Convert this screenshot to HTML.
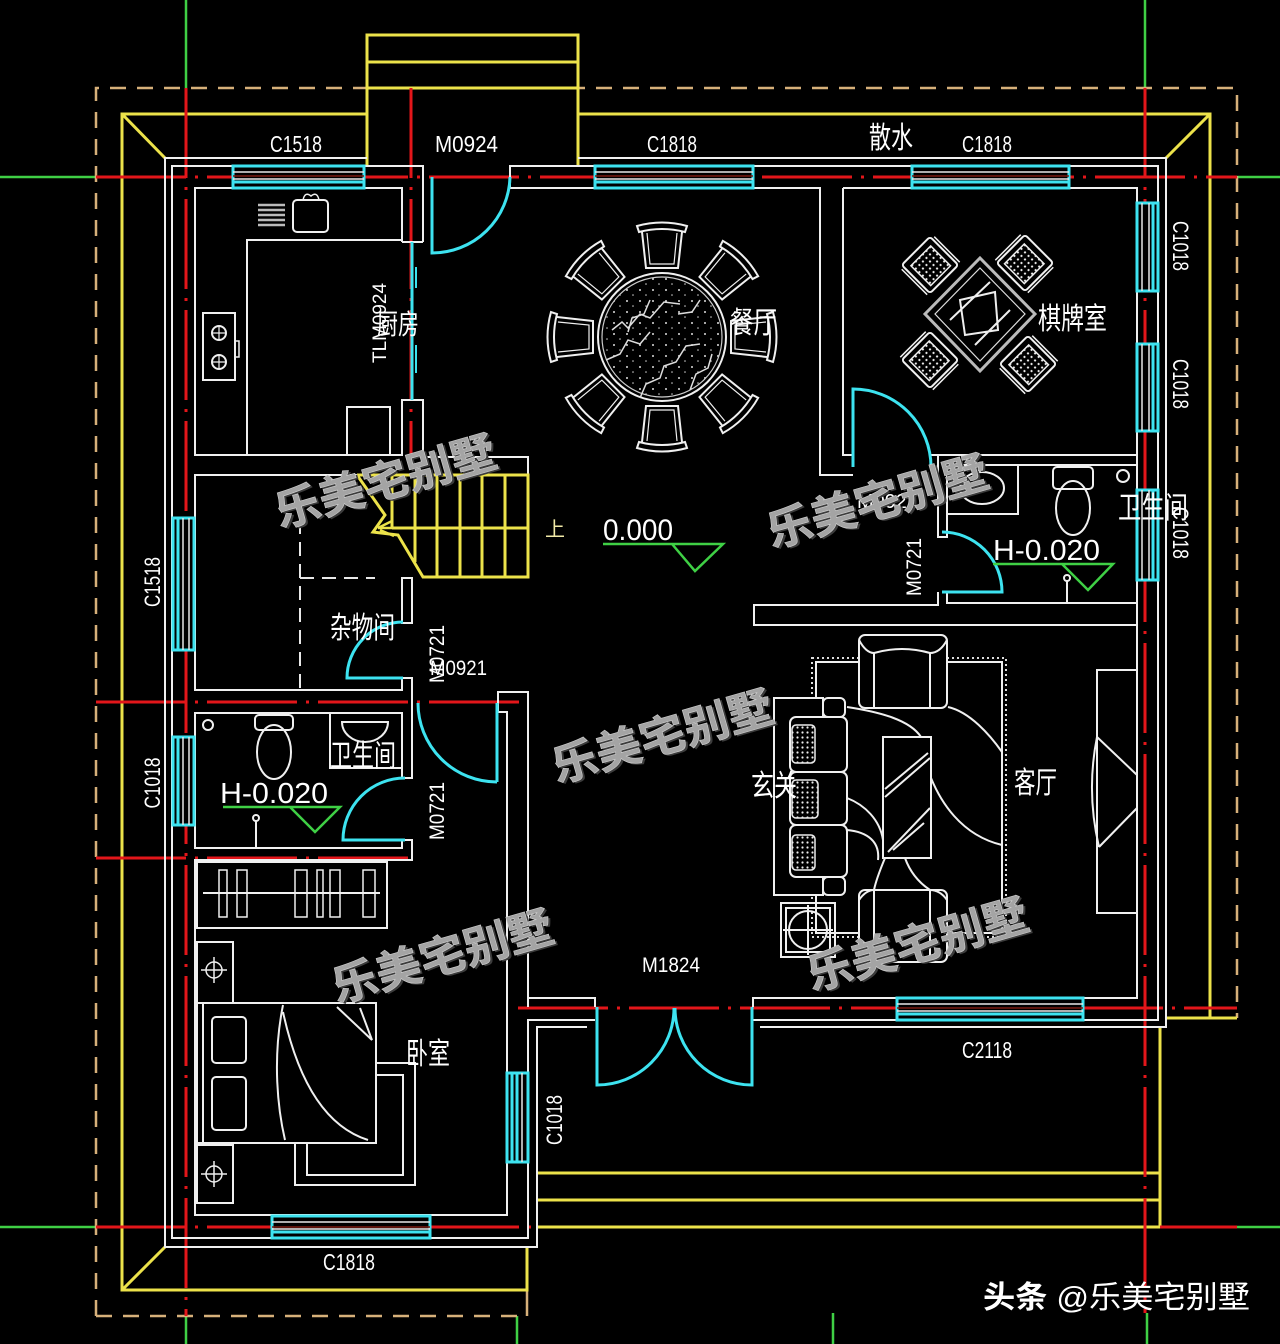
<!DOCTYPE html>
<html><head><meta charset="utf-8">
<style>
html,body{margin:0;padding:0;background:#000;}
svg{display:block}
.w{stroke:#f0f0f0;stroke-width:2;fill:none}
.wb{stroke:#f0f0f0;stroke-width:2;fill:#000}
.r{stroke:#e3161a;stroke-width:3;fill:none;stroke-dasharray:90 9 3 9}
.y{stroke:#ece24a;stroke-width:3;fill:none}
.c{stroke:#3de3f0;stroke-width:3;fill:none}
.g{stroke:#3fd045;stroke-width:2.5;fill:none}
.d{stroke:#d6b07a;stroke-width:2.5;fill:none;stroke-dasharray:16 11}
.t{fill:#fff;font-family:"Liberation Sans","Noto Sans CJK SC",sans-serif}
.k{fill:#fff;font-family:"Liberation Sans","Noto Sans CJK SC",sans-serif}
.wm{font-family:"Liberation Sans","Noto Sans CJK SC","WenQuanYi Zen Hei",sans-serif;font-weight:700;font-size:44px}
</style></head><body>
<svg width="1280" height="1344" viewBox="0 0 1280 1344" xmlns="http://www.w3.org/2000/svg">
<defs>
<pattern id="dt" width="5" height="5" patternUnits="userSpaceOnUse"><circle cx="2.5" cy="2.5" r="1.1" fill="#eee"/></pattern>
<pattern id="sp" width="13" height="11" patternUnits="userSpaceOnUse"><circle cx="3" cy="4" r="1" fill="#ddd"/><circle cx="9" cy="9" r="0.8" fill="#ccc"/></pattern>
<g id="ch" stroke="#f0f0f0" stroke-width="2" fill="none">
  <path d="M-25,-21 Q0,-28 25,-21 L23,-15 Q0,-21 -23,-15 Z" fill="#000"/>
  <path d="M-20,-15 L-16,21 L16,21 L20,-15"/>
  <path d="M-15,-14 L-12,17 L12,17 L15,-14" stroke-width="1.2"/>
</g>
<g id="mj">
  <rect x="-20" y="-20" width="40" height="40" rx="3" stroke="#f0f0f0" stroke-width="2" fill="#000"/>
  <rect x="-14" y="-13" width="28" height="28" fill="url(#dt)" stroke="#eee" stroke-width="1.5"/>
  <path d="M-23,-17 V19 M23,-17 V19" stroke="#f0f0f0" stroke-width="1.5" fill="none"/>
</g>
</defs>
<rect width="1280" height="1344" fill="#000"/>

<!-- green axis stubs -->
<path class="g" d="M186 0V88M1145 0V88M0 177H96M1237 177H1280M0 1227H96M1237 1227H1280M186 1316V1344M517 1316V1344M833 1313V1344M1147 1313V1344"/>

<!-- dashed boundary -->
<path class="d" d="M96 1316V88H1237V1018"/>
<path class="d" d="M96 1316H527"/>
<path d="M527 1316V1290" stroke="#d6b07a" stroke-width="2.5"/>

<!-- yellow -->
<path class="y" d="M367 166V35H578V166M367 62H578M367 88H578"/>
<path class="y" d="M367 114H122V1290H527V1247M122 114L165 158M122 1290L165 1247"/>
<path class="y" d="M578 114H1210V1018M1210 114L1166 158M1166 1018H1237"/>
<path class="y" d="M537 1173H1160M537 1200H1160M537 1227H1160V1028"/>

<!-- red axes -->
<path class="r" d="M96 177H1237"/>
<path class="r" d="M186 88V1316"/>
<path class="r" d="M411 88V460"/>
<path class="r" d="M1145 88V1313"/>
<path class="r" d="M96 702H520"/>
<path class="r" d="M96 858H412"/>
<path class="r" d="M518 1008H1237"/>
<path class="r" d="M96 1227H537"/>
<path class="r" d="M1160 1227H1237"/>

<!-- white walls -->
<g class="w">
<path d="M367 158H165V1247H537V1027H587"/>
<path d="M578 158H1166V1027H760"/>
<path d="M423 242V166H172V1238H528V1020H595"/>
<path d="M510 188V166H1158V1020H753"/>
<path d="M510 188H820V475H853"/>
<path d="M843 188V455H853"/>
<path d="M843 188H1137V998H753V1007"/>
<path d="M930 455H1137"/>
<path d="M938 455V537H947V465H1137"/>
<path d="M938 592V605H754V625H1137"/>
<path d="M947 592V603H1137"/>
<path d="M528 1007V998H595V1007"/>
<!-- kitchen -->
<path d="M402 242V188H195V455H402V400H423V457H528V475"/>
<path d="M402 242H423"/>
<!-- stair room / storage -->
<path d="M357 475H195V690H402V678H412V692"/>
<rect x="402" y="578" width="10" height="45"/>
<!-- bath 2 -->
<path d="M402 778V713H195V848H402V840"/>
<path d="M412 692V778H402"/>
<path d="M402 840H412V860H195V1215H507V712H498V692H528V998"/>
<path d="M528 1020V1238"/>
<!-- corridor cap -->
<path d="M498 712V692"/>
</g>

<!-- storage dashed -->
<path d="M300 520V690M300 578H375" stroke="#e8e8e8" stroke-width="2" stroke-dasharray="14 8" fill="none"/>

<!-- stairs -->
<path class="y" d="M357 475H528V577H423L398 535L373 532L385 515L357 475"/>
<path class="y" d="M392 475V528M415 475V562M437 475V577M460 475V577M482 475V577M505 475V577M392 528H528"/>
<path d="M378 528H425M378 528L392 521M380 530L394 536" stroke="#ece24a" stroke-width="2.5" fill="none"/>

<!-- windows -->
<g>
<rect x="233" y="166" width="131" height="22" fill="#000"/>
<rect x="595" y="166" width="158" height="22" fill="#000"/>
<rect x="912" y="166" width="157" height="22" fill="#000"/>
<rect x="272" y="1216" width="158" height="22" fill="#000"/>
<rect x="897" y="998" width="186" height="22" fill="#000"/>
<rect x="1137" y="203" width="21" height="88" fill="#000"/>
<rect x="1137" y="344" width="21" height="87" fill="#000"/>
<rect x="1137" y="490" width="21" height="90" fill="#000"/>
<rect x="173" y="518" width="21" height="132" fill="#000"/>
<rect x="173" y="737" width="21" height="88" fill="#000"/>
<rect x="507" y="1073" width="21" height="89" fill="#000"/>
</g>
<g class="c" stroke-width="2.5">
<rect x="233" y="166" width="131" height="22"/><path d="M233 182H364"/>
<rect x="595" y="166" width="158" height="22"/><path d="M595 182H753"/>
<rect x="912" y="166" width="157" height="22"/><path d="M912 182H1069"/>
<rect x="272" y="1216" width="158" height="22"/><path d="M272 1232H430"/>
<rect x="897" y="998" width="186" height="22"/><path d="M897 1014H1083"/>
<rect x="1137" y="203" width="21" height="88"/><path d="M1153 203V291"/>
<rect x="1137" y="344" width="21" height="87"/><path d="M1153 344V431"/>
<rect x="1137" y="490" width="21" height="90"/><path d="M1153 490V580"/>
<rect x="173" y="518" width="21" height="132"/><path d="M178 518V650"/>
<rect x="173" y="737" width="21" height="88"/><path d="M178 737V825"/>
<rect x="507" y="1073" width="21" height="89"/><path d="M512 1073V1162M517 1073V1162"/>
</g>
<g stroke="#e8e8e8" stroke-width="1.5" fill="none">
<path d="M233 172H364M233 179H364"/>
<path d="M595 172H753M595 179H753"/>
<path d="M912 172H1069M912 179H1069"/>
<path d="M272 1222H430M272 1229H430"/>
<path d="M897 1004H1083M897 1011H1083"/>
<path d="M1142 203V291M1149 203V291M1142 344V431M1149 344V431M1142 490V580M1149 490V580"/>
<path d="M183 518V650M189 518V650M183 737V825M189 737V825"/>
<path d="M522 1073V1162"/>
</g>
<path d="M233 176H364M595 176H753M912 176H1069M897 1008H1083M272 1227H430" stroke="#7a1a10" stroke-width="1.5"/>

<!-- doors -->
<g class="c">
<path d="M432 177V253A78 78 0 0 0 510 177"/>
<path d="M412 242V400"/>
<path d="M416 267V288M416 345V373" stroke-width="2"/>
<path d="M853 467V389A78 78 0 0 1 931 467"/>
<path d="M942 532A60 60 0 0 1 1002 592H942"/>
<path d="M403 622A56 56 0 0 0 347 678H403"/>
<path d="M405 778A62 62 0 0 0 343 840H405"/>
<path d="M497 703V782M418 703A79 79 0 0 0 497 782"/>
<path d="M597 1007V1085A77 77 0 0 0 674 1008"/>
<path d="M752 1007V1085A77 77 0 0 1 675 1008"/>
</g>

<!-- kitchen furniture -->
<g class="w">
<path d="M247 455V240H402"/>
<rect x="293" y="200" width="35" height="32" rx="4"/>
<path d="M303 200Q305 191 311 196Q317 191 319 200" stroke-width="1.5"/>
<rect x="203" y="313" width="32" height="67"/>
<circle cx="219" cy="333" r="7"/><circle cx="219" cy="362" r="7"/>
<path d="M212 333H226M219 326V340M212 362H226M219 355V369" stroke-width="1.2"/>
<rect x="235" y="341" width="4" height="16" stroke-width="1.5"/>
<rect x="347" y="407" width="43" height="48"/>
</g>
<path d="M258 205H285M258 210H285M258 215H285M258 220H285M258 225H285" stroke="#bbb" stroke-width="2.5"/>

<!-- dining table -->
<circle cx="662" cy="337" r="64" class="w" stroke-width="2.5"/>
<circle cx="662" cy="337" r="60" fill="url(#sp)" stroke="#ccc" stroke-width="1.2"/>
<path d="M612 330l10-8 6 6 12-14 10 4 14-16 16 2M606 360l14-6 8-14 12 4 10-12M640 398l6-14 14-6 4-12 12-4 10-16 14-2M690 390l6-16 12-6 4-14M650 300l-6 14-12 4-4 14M700 300l-8 12-14 2" stroke="#ddd" stroke-width="1.5" fill="none"/>
<use href="#ch" transform="translate(662 337) rotate(0) translate(0 -90)"/>
<use href="#ch" transform="translate(662 337) rotate(45) translate(0 -90)"/>
<use href="#ch" transform="translate(662 337) rotate(90) translate(0 -90)"/>
<use href="#ch" transform="translate(662 337) rotate(135) translate(0 -90)"/>
<use href="#ch" transform="translate(662 337) rotate(180) translate(0 -90)"/>
<use href="#ch" transform="translate(662 337) rotate(225) translate(0 -90)"/>
<use href="#ch" transform="translate(662 337) rotate(270) translate(0 -90)"/>
<use href="#ch" transform="translate(662 337) rotate(315) translate(0 -90)"/>

<!-- mahjong -->
<use href="#mj" transform="translate(930 265) rotate(-45)"/>
<use href="#mj" transform="translate(1025 263) rotate(45)"/>
<use href="#mj" transform="translate(930 360) rotate(45)"/>
<use href="#mj" transform="translate(1028 364) rotate(-45)"/>
<path d="M980 258L1035 314L980 371L925 314Z" stroke="#bbb" stroke-width="3" fill="#000"/>
<path d="M980 268L1025 314L980 361L935 314Z" stroke="#ddd" stroke-width="1.2" fill="none"/>
<path d="M960 300L995 292L998 330L965 335ZM950 320L990 282M975 345L1010 310" stroke="#eee" stroke-width="2" fill="none"/>

<!-- bath 1 -->
<g class="w">
<path d="M947 514H1018V465"/>
<ellipse cx="982" cy="488" rx="22" ry="16"/>
<rect x="1053" y="467" width="40" height="22" rx="4"/>
<ellipse cx="1073" cy="508" rx="17" ry="27"/>
<circle cx="1123" cy="476" r="6"/>
<path d="M1067 580V603"/><circle cx="1067" cy="578" r="3"/>
</g>

<!-- bath 2 -->
<g class="w">
<rect x="255" y="715" width="38" height="15" rx="4"/>
<ellipse cx="274" cy="752" rx="17" ry="27"/>
<path d="M330 713V768H402"/>
<path d="M342 722A23 20 0 0 0 388 722Z"/>
<circle cx="208" cy="725" r="5"/>
<path d="M256 821V848"/><circle cx="256" cy="818" r="3"/>
</g>

<!-- bedroom -->
<g class="w">
<rect x="197" y="862" width="190" height="66"/>
<path d="M203 893H380"/>
<rect x="219" y="870" width="8" height="47" stroke-width="1.5"/>
<rect x="237" y="870" width="10" height="47" stroke-width="1.5"/>
<rect x="295" y="870" width="12" height="47" stroke-width="1.5"/>
<rect x="317" y="870" width="6" height="47" stroke-width="1.5"/>
<rect x="330" y="870" width="10" height="47" stroke-width="1.5"/>
<rect x="363" y="870" width="12" height="47" stroke-width="1.5"/>
<rect x="197" y="942" width="36" height="61"/>
<rect x="197" y="1145" width="36" height="58"/>
<rect x="295" y="1063" width="120" height="122"/>
<rect x="307" y="1075" width="96" height="100"/>
<rect x="197" y="1003" width="179" height="140" class="wb"/>
<path d="M203 1003V1143"/>
<rect x="212" y="1017" width="34" height="46" rx="4"/>
<rect x="212" y="1077" width="34" height="53" rx="4"/>
<path d="M283 1005C272 1060 278 1110 285 1140M283 1012C300 1090 330 1128 368 1140M337 1007L372 1040L360 1008"/>
</g>
<g stroke="#eee" stroke-width="1.5" fill="none">
<circle cx="214" cy="970" r="8"/><path d="M214 957V983M201 970H227"/>
<circle cx="214" cy="1174" r="8"/><path d="M214 1161V1187M201 1174H227"/>
</g>

<!-- living room -->
<rect x="816" y="662" width="186" height="271" class="w"/>
<rect x="812" y="658" width="194" height="279" stroke="#ddd" stroke-width="2" fill="none" stroke-dasharray="2 3"/>
<g class="w">
<path d="M847 707C880 712 910 720 921 737M948 707C970 712 990 735 1002 752M931 778C940 800 960 835 1002 845M847 798C865 805 880 820 883 840M847 830C868 832 880 842 878 860M885 858C880 870 876 880 874 890M905 858C910 872 918 882 930 890"/>
<rect x="859" y="635" width="88" height="73" rx="6" class="wb"/>
<path d="M874 653V708M930 653V708M874 653Q902 645 930 653M859 640Q866 653 874 653M947 640Q940 653 930 653"/>
<rect x="774" y="698" width="49" height="197" class="wb"/>
<rect x="790" y="717" width="57" height="55" rx="6" class="wb"/>
<rect x="790" y="772" width="57" height="53" rx="6" class="wb"/>
<rect x="790" y="825" width="57" height="52" rx="6" class="wb"/>
<rect x="823" y="698" width="22" height="19" rx="5" class="wb"/>
<rect x="823" y="877" width="22" height="18" rx="5" class="wb"/>
<rect x="883" y="737" width="48" height="121" class="wb"/>
<path d="M885 797L930 758M885 789L928 753M888 852L930 808M893 850L924 823"/>
<rect x="859" y="890" width="88" height="72" rx="6" class="wb"/>
<path d="M874 890V960M930 890V960M859 900Q866 890 874 890M947 900Q940 890 930 890"/>
<rect x="781" y="903" width="54" height="54"/>
<rect x="786" y="908" width="44" height="44"/>
<circle cx="808" cy="930" r="19"/>
<path d="M808 905V955M783 930H833"/>
<rect x="1097" y="670" width="40" height="243"/>
<path d="M1097 737L1137 775M1137 808L1099 847M1097 737Q1086 792 1099 847"/>
</g>
<rect x="792" y="725" width="23" height="38" rx="4" fill="url(#dt)" stroke="#eee" stroke-width="1.5"/>
<rect x="792" y="780" width="26" height="38" rx="4" fill="url(#dt)" stroke="#eee" stroke-width="1.5"/>
<rect x="792" y="835" width="23" height="35" rx="4" fill="url(#dt)" stroke="#eee" stroke-width="1.5"/>

<!-- elevation marks -->
<path class="g" d="M603 544H723L695 571L672 544"/>
<path class="g" d="M993 564H1113L1088 590L1062 564"/>
<path class="g" d="M223 807H340L315 832L290 807"/>

<!-- labels -->
<g class="t" font-size="23">
<text x="270" y="152" textLength="52" lengthAdjust="spacingAndGlyphs">C1518</text>
<text x="435" y="152" textLength="63" lengthAdjust="spacingAndGlyphs">M0924</text>
<text x="647" y="152" textLength="50" lengthAdjust="spacingAndGlyphs">C1818</text>
<text x="962" y="152" textLength="50" lengthAdjust="spacingAndGlyphs">C1818</text>
<text x="323" y="1270" textLength="52" lengthAdjust="spacingAndGlyphs">C1818</text>
<text x="962" y="1058" textLength="50" lengthAdjust="spacingAndGlyphs">C2118</text>
<text x="642" y="972" font-size="21" textLength="58" lengthAdjust="spacingAndGlyphs">M1824</text>
<text x="430" y="675" font-size="21" textLength="57" lengthAdjust="spacingAndGlyphs">M0921</text>
<text x="857" y="508" font-size="20" textLength="61" lengthAdjust="spacingAndGlyphs">M0921</text>
<text x="603" y="540" font-size="30" textLength="70" lengthAdjust="spacingAndGlyphs">0.000</text>
<text x="993" y="560" font-size="29" textLength="107" lengthAdjust="spacingAndGlyphs">H-0.020</text>
<text x="220" y="803" font-size="29" textLength="108" lengthAdjust="spacingAndGlyphs">H-0.020</text>
<text transform="translate(386 323) rotate(-90)" text-anchor="middle" font-size="19" textLength="80" lengthAdjust="spacingAndGlyphs">TLM0924</text>
<text transform="translate(1173 246) rotate(90)" text-anchor="middle" font-size="22" textLength="50" lengthAdjust="spacingAndGlyphs">C1018</text>
<text transform="translate(1173 384) rotate(90)" text-anchor="middle" font-size="22" textLength="50" lengthAdjust="spacingAndGlyphs">C1018</text>
<text transform="translate(1173 533) rotate(90)" text-anchor="middle" font-size="22" textLength="52" lengthAdjust="spacingAndGlyphs">C1018</text>
<text transform="translate(160 582) rotate(-90)" text-anchor="middle" font-size="22" textLength="50" lengthAdjust="spacingAndGlyphs">C1518</text>
<text transform="translate(160 783) rotate(-90)" text-anchor="middle" font-size="22" textLength="51" lengthAdjust="spacingAndGlyphs">C1018</text>
<text transform="translate(562 1120) rotate(-90)" text-anchor="middle" font-size="22" textLength="50" lengthAdjust="spacingAndGlyphs">C1018</text>
<text transform="translate(444 654) rotate(-90)" text-anchor="middle" font-size="21" textLength="58" lengthAdjust="spacingAndGlyphs">M0721</text>
<text transform="translate(444 811) rotate(-90)" text-anchor="middle" font-size="21" textLength="58" lengthAdjust="spacingAndGlyphs">M0721</text>
<text transform="translate(921 567) rotate(-90)" text-anchor="middle" font-size="21" textLength="58" lengthAdjust="spacingAndGlyphs">M0721</text>
</g>
<g class="k" font-size="30">
<text x="869" y="148" textLength="44" lengthAdjust="spacingAndGlyphs">散水</text>
<text x="377" y="334" font-size="28" textLength="42" lengthAdjust="spacingAndGlyphs">厨房</text>
<text x="730" y="333" textLength="47" lengthAdjust="spacingAndGlyphs">餐厅</text>
<text x="1038" y="329" textLength="69" lengthAdjust="spacingAndGlyphs">棋牌室</text>
<text x="1118" y="518" textLength="70" lengthAdjust="spacingAndGlyphs">卫生间</text>
<text x="330" y="638" textLength="65" lengthAdjust="spacingAndGlyphs">杂物间</text>
<text x="330" y="766" textLength="66" lengthAdjust="spacingAndGlyphs">卫生间</text>
<text x="406" y="1064" textLength="44" lengthAdjust="spacingAndGlyphs">卧室</text>
<text x="751" y="796" textLength="46" lengthAdjust="spacingAndGlyphs">玄关</text>
<text x="1014" y="793" textLength="43" lengthAdjust="spacingAndGlyphs">客厅</text>
<text x="545" y="536" font-size="20" fill="#f2eaa8">上</text>
</g>

<!-- watermarks -->
<g class="wm">
<g transform="rotate(-16 280 528)"><text x="282" y="530" fill="#3c3c3c" textLength="228" lengthAdjust="spacingAndGlyphs">乐美宅别墅</text><text x="280" y="528" fill="#a4a4a4" stroke="#cfcfcf" stroke-width="0.6" textLength="228" lengthAdjust="spacingAndGlyphs">乐美宅别墅</text></g>
<g transform="rotate(-16 772 548)"><text x="774" y="550" fill="#3c3c3c" textLength="228" lengthAdjust="spacingAndGlyphs">乐美宅别墅</text><text x="772" y="548" fill="#a4a4a4" stroke="#cfcfcf" stroke-width="0.6" textLength="228" lengthAdjust="spacingAndGlyphs">乐美宅别墅</text></g>
<g transform="rotate(-16 557 783)"><text x="559" y="785" fill="#3c3c3c" textLength="228" lengthAdjust="spacingAndGlyphs">乐美宅别墅</text><text x="557" y="783" fill="#a4a4a4" stroke="#cfcfcf" stroke-width="0.6" textLength="228" lengthAdjust="spacingAndGlyphs">乐美宅别墅</text></g>
<g transform="rotate(-16 337 1003)"><text x="339" y="1005" fill="#3c3c3c" textLength="228" lengthAdjust="spacingAndGlyphs">乐美宅别墅</text><text x="337" y="1003" fill="#a4a4a4" stroke="#cfcfcf" stroke-width="0.6" textLength="228" lengthAdjust="spacingAndGlyphs">乐美宅别墅</text></g>
<g transform="rotate(-16 812 991)"><text x="814" y="993" fill="#3c3c3c" textLength="228" lengthAdjust="spacingAndGlyphs">乐美宅别墅</text><text x="812" y="991" fill="#a4a4a4" stroke="#cfcfcf" stroke-width="0.6" textLength="228" lengthAdjust="spacingAndGlyphs">乐美宅别墅</text></g>
</g>

<!-- footer credit -->
<text x="983" y="1308" font-size="31" fill="#fff" font-family="'Liberation Sans','Noto Sans CJK SC',sans-serif" textLength="267" lengthAdjust="spacingAndGlyphs"><tspan font-weight="700">头条</tspan> @乐美宅别墅</text>
</svg>
</body></html>
